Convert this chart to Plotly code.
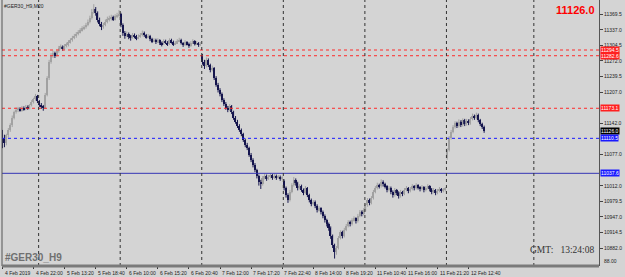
import plotly.graph_objects as go

# ---- data ----
opens = [11122,11112,11100,11117,11128,11138,11153,11165,11170,11172,11168,11174,11171,11176,11173,11179,11186,11192,11199,11188,
         11180,11176,11174,11201,11236,11270,11282,11288,11284,11292,11299,11301,11297,11303,11305,11311,11315,11320,11324,11328,
         11332,11336,11340,11342,11347,11353,11361,11374,11380,11372,11357,11349,11342,11347,11353,11359,11361,11363,11358,11365,
         11367,11370,11347,11330,11324,11328,11322,11320,11326,11323,11319,11322,11326,11330,11325,11321,11324,11317,11313,11316,
         11311,11315,11309,11307,11313,11310,11307,11315,11311,11307,11309,11313,11316,11309,11305,11311,11307,11303,11309,11313,
         11307,11309,11305,11282,11270,11261,11274,11263,11253,11257,11236,11222,11211,11203,11190,11182,11174,11170,11178,11165,
         11153,11145,11136,11128,11119,11107,11097,11090,11076,11065,11055,11044,11032,11020,11015,11028,11032,11026,11030,11034,
         11028,11032,11028,11030,11026,11022,11007,10992,10982,10999,11013,11024,11017,11007,11011,11003,10997,11007,10992,10982,
         10974,10978,10970,10961,10965,10957,10949,10940,10932,10924,10907,10888,10874,10882,10903,10915,10907,10920,10928,10936,
         10932,10940,10944,10938,10949,10957,10953,10961,10971,10982,10976,10986,10999,11007,11013,11011,11020,11015,11011,11003,
         11007,10999,10992,11003,10997,10990,10999,10995,11003,11007,11001,11005,11011,11007,11013,11009,11005,11009,11003,11007,
         11011,11005,10999,11003,10997,11001,11005,11001,11003,11070,11086,11111,11124,11134,11142,11136,11145,11138,11148,11140,
         11147,11142,11151,11157,11153,11159,11148,11140,11134]
highs = [11128,11118,11120,11132,11142,11158,11168,11175,11176,11175,11178,11177,11180,11179,11182,11190,11195,11203,11201,11190,
         11184,11180,11205,11240,11274,11288,11293,11291,11296,11303,11306,11304,11307,11310,11315,11319,11324,11328,11332,11336,
         11340,11344,11346,11351,11358,11366,11380,11390,11384,11375,11362,11353,11351,11358,11364,11366,11368,11366,11369,11372,
         11378,11372,11350,11334,11333,11331,11326,11330,11329,11326,11327,11330,11335,11333,11328,11328,11326,11320,11319,11318,
         11319,11317,11312,11317,11316,11313,11319,11318,11314,11313,11317,11320,11318,11311,11315,11313,11310,11313,11317,11315,
         11313,11311,11311,11286,11274,11279,11277,11266,11262,11259,11240,11226,11215,11206,11194,11186,11178,11182,11180,11168,
         11157,11149,11140,11131,11122,11110,11101,11093,11080,11069,11059,11047,11035,11024,11032,11037,11035,11034,11038,11036,
         11036,11035,11034,11033,11032,11025,11010,10996,11003,11017,11030,11027,11020,11015,11014,11006,11011,11009,10995,10985,
         10982,10981,10973,10969,10967,10960,10952,10943,10935,10927,10910,10891,10886,10907,10919,10918,10924,10932,10940,10939,
         10944,10948,10946,10953,10961,10960,10965,10975,10986,10985,10990,11003,11011,11018,11016,11025,11023,11018,11013,11011,
         11010,11002,11007,11005,11000,11003,11001,11007,11011,11009,11009,11015,11013,11017,11015,11011,11013,11011,11011,11015,
         11013,11007,11007,11005,11005,11009,11007,11007,11009,11090,11115,11128,11138,11146,11145,11150,11148,11152,11151,11151,
         11150,11155,11162,11160,11164,11162,11151,11143,11137]
lows = [11090,11092,11096,11112,11124,11134,11150,11162,11165,11166,11166,11168,11169,11170,11171,11177,11183,11189,11184,11176,
        11172,11168,11172,11198,11232,11266,11278,11278,11281,11289,11296,11293,11295,11300,11302,11308,11312,11317,11320,11325,
        11329,11333,11336,11339,11344,11350,11358,11370,11366,11352,11344,11336,11339,11344,11350,11354,11356,11355,11356,11361,
        11363,11342,11324,11318,11321,11317,11314,11318,11319,11315,11317,11320,11323,11322,11318,11319,11313,11309,11311,11307,
        11309,11305,11302,11305,11307,11303,11305,11308,11303,11305,11307,11311,11306,11301,11303,11304,11299,11301,11307,11304,
        11305,11301,11303,11264,11255,11258,11259,11248,11250,11232,11218,11206,11198,11186,11178,11170,11165,11167,11161,11149,
        11141,11132,11124,11115,11103,11092,11086,11072,11061,11050,11040,11027,11012,11005,11012,11025,11022,11024,11027,11024,
        11026,11024,11026,11022,11024,11002,10987,10976,10979,10996,11010,11012,11002,11004,10999,10992,10995,10988,10977,10969,
        10971,10965,10956,10958,10952,10944,10935,10927,10918,10901,10882,10860,10868,10879,10900,10902,10904,10917,10925,10927,
        10929,10937,10933,10935,10946,10948,10950,10958,10968,10971,10973,10983,10996,11004,11006,11008,11010,11006,10998,11000,
        10994,10987,10989,10992,10985,10987,10990,10992,11000,10996,10998,11002,11002,11004,11004,11000,11002,10998,11000,11004,
        11000,10994,10996,10992,10994,10998,10997,10998,11000,11066,11083,11108,11121,11131,11132,11133,11134,11135,11136,11137,
        11138,11139,11148,11149,11150,11144,11136,11130,11122]
closes = [11112,11100,11117,11128,11138,11153,11165,11170,11172,11168,11174,11171,11176,11173,11179,11186,11192,11199,11188,11180,
          11176,11174,11201,11236,11270,11282,11288,11284,11292,11299,11301,11297,11303,11305,11311,11315,11320,11324,11328,11332,
          11336,11340,11342,11347,11353,11361,11374,11380,11372,11357,11349,11342,11347,11353,11359,11361,11363,11358,11365,11367,
          11370,11347,11330,11324,11328,11322,11320,11326,11323,11319,11322,11326,11330,11325,11321,11324,11317,11313,11316,11311,
          11315,11309,11307,11313,11310,11307,11315,11311,11307,11309,11313,11316,11309,11305,11311,11307,11303,11309,11313,11307,
          11309,11305,11307,11270,11261,11274,11263,11253,11257,11236,11222,11211,11203,11190,11182,11174,11170,11178,11165,11153,
          11145,11136,11128,11119,11107,11097,11090,11076,11065,11055,11044,11032,11020,11015,11028,11032,11026,11030,11034,11028,
          11032,11028,11030,11026,11028,11007,10992,10982,10999,11013,11024,11017,11007,11011,11003,10997,11007,10992,10982,10974,
          10978,10970,10961,10965,10957,10949,10940,10932,10924,10907,10888,10874,10882,10903,10915,10907,10920,10928,10936,10932,
          10940,10944,10938,10949,10957,10953,10961,10971,10982,10976,10986,10999,11007,11013,11011,11020,11015,11011,11003,11007,
          10999,10992,11003,10997,10990,10999,10995,11003,11007,11001,11005,11011,11007,11013,11009,11005,11009,11003,11007,11011,
          11005,10999,11003,10997,11001,11005,11001,11003,11005,11086,11111,11124,11134,11142,11136,11145,11138,11148,11140,11147,
          11142,11151,11157,11153,11159,11148,11140,11134,11126]

price_ticks = [11369.5, 11337.0, 11304.5, 11272.0, 11239.5, 11207.0, 11142.0,
               11077.0, 11012.0, 10979.5, 10947.0, 10914.5, 10882.0]
time_labels = ["4 Feb 2019", "4 Feb 22:00", "5 Feb 13:20", "5 Feb 18:40", "6 Feb 10:00", "6 Feb 15:20",
               "6 Feb 20:40", "7 Feb 12:00", "7 Feb 17:20", "7 Feb 22:40", "8 Feb 14:00", "8 Feb 19:20",
               "11 Feb 10:40", "11 Feb 16:00", "11 Feb 21:20", "12 Feb 12:40"]
label_bars = [0, 16, 32, 48, 64, 80, 96, 112, 128, 144, 160, 176, 192, 208, 224, 240]
day_separators = [18.6, 60.6, 102.6, 144.6, 186.6, 228.6, 273.6]

red_levels = [11294.5, 11282.6, 11173.1]
blue_dotted_level = 11110.5
blue_solid_level = 11037.6
current_price = 11126.0

BG = "#d4d4d4"
BULL = "#a2a2a2"
BEAR = "#16164e"

fig = go.Figure()
n = len(closes)

for color, bull in ((BULL, True), (BEAR, False)):
    xs, ys, bx, bb, bh = [], [], [], [], []
    for i in range(n):
        o, c = opens[i], closes[i]
        if (c >= o) != bull:
            continue
        xs += [i, i, None]
        ys += [lows[i], highs[i], None]
        bx.append(i)
        bb.append(min(o, c))
        bh.append(max(abs(c - o), 0.8))
    fig.add_trace(go.Scatter(x=xs, y=ys, mode="lines", line=dict(color=color, width=1),
                             hoverinfo="skip", showlegend=False))
    fig.add_trace(go.Bar(x=bx, y=bh, base=bb, width=0.8, marker=dict(color=color, line=dict(width=0)),
                         hoverinfo="skip", showlegend=False))

shapes = []
for lv in red_levels:
    shapes.append(dict(type="line", xref="paper", x0=0, x1=1, yref="y", y0=lv, y1=lv,
                       line=dict(color="#ff2a2a", width=1, dash="dot")))
shapes.append(dict(type="line", xref="paper", x0=0, x1=1, yref="y", y0=blue_dotted_level, y1=blue_dotted_level,
                   line=dict(color="#1a1aff", width=1, dash="dot")))
shapes.append(dict(type="line", xref="paper", x0=0, x1=1, yref="y", y0=blue_solid_level, y1=blue_solid_level,
                   line=dict(color="#3535b5", width=1)))
for s in day_separators:
    shapes.append(dict(type="line", xref="x", x0=s, x1=s, yref="paper", y0=0, y1=1,
                       line=dict(color="#333333", width=1, dash="dot")))
shapes.append(dict(type="line", xref="paper", x0=0, x1=0, yref="paper", y0=0, y1=1,
                   line=dict(color="#555555", width=1)))
shapes.append(dict(type="line", xref="paper", x0=0, x1=1, yref="paper", y0=0, y1=0,
                   line=dict(color="#7a7a7a", width=3)))

ann = []
AX_FONT = dict(family="Liberation Sans", size=5, color="#222222")
for t in price_ticks:
    ann.append(dict(x=1, xref="paper", xanchor="left", xshift=3, y=t, yref="y", text=f"{t:.1f}",
                    showarrow=False, font=AX_FONT))
ann.append(dict(x=1, xref="paper", xanchor="left", xshift=3, y=0, yref="paper", text="88.00",
                showarrow=False, font=AX_FONT))
for lv in red_levels:
    ann.append(dict(x=1, xref="paper", xanchor="left", xshift=1, y=lv, yref="y", text=f"{lv:.1f}",
                    showarrow=False, bgcolor="#ff2020", borderpad=0,
                    font=dict(family="Liberation Sans", size=5, color="white")))
ann.append(dict(x=1, xref="paper", xanchor="left", xshift=1, y=current_price, yref="y", text=f"{current_price:.1f}",
                showarrow=False, bgcolor="#000000", borderpad=0,
                font=dict(family="Liberation Sans", size=5, color="white")))
for lv in (blue_dotted_level, blue_solid_level):
    ann.append(dict(x=1, xref="paper", xanchor="left", xshift=1, y=lv, yref="y", text=f"{lv:.1f}",
                    showarrow=False, bgcolor="#1a1aff", borderpad=0,
                    font=dict(family="Liberation Sans", size=5, color="white")))
for b, lab in zip(label_bars, time_labels):
    ann.append(dict(x=b, xref="x", xanchor="left", xshift=0, y=0, yref="paper", yanchor="top", yshift=-2,
                    text=lab, showarrow=False, font=AX_FONT))
ann.append(dict(x=0, xref="paper", xanchor="left", xshift=0, y=1, yref="paper", yanchor="top", yshift=-1,
                text="#GER30_H9,M20", showarrow=False, font=dict(family="Liberation Sans", size=5, color="#222222")))
ann.append(dict(x=0, xref="paper", xanchor="left", xshift=1, y=0, yref="paper", yanchor="bottom", yshift=1,
                text="#GER30_H9", showarrow=False,
                font=dict(family="Liberation Sans", size=10, color="#707070", weight="bold")))
ann.append(dict(x=1, xref="paper", xanchor="right", xshift=-2, y=1, yref="paper", yanchor="top", yshift=-2,
                text="11126.0", showarrow=False,
                font=dict(family="Liberation Sans", size=11, color="#ff0000", weight="bold")))
ann.append(dict(x=1, xref="paper", xanchor="right", xshift=-3, y=0, yref="paper", yanchor="bottom", yshift=9,
                text="GMT:&nbsp;&nbsp;&nbsp;13:24:08", showarrow=False,
                font=dict(family="Liberation Serif", size=9.5, color="#333333")))

fig.update_layout(
    width=625, height=277,
    margin=dict(l=2, r=26, t=0, b=11),
    paper_bgcolor=BG, plot_bgcolor=BG,
    bargap=0, barmode="overlay",
    shapes=shapes, annotations=ann,
    xaxis=dict(range=[-0.257, 307.15], showgrid=False, zeroline=False, showticklabels=False,
               tickvals=label_bars, ticks="outside", ticklen=2, tickcolor="#333333", fixedrange=True),
    yaxis=dict(range=[10844.5, 11398.7], side="right", showgrid=False, zeroline=False,
               showticklabels=False, tickvals=price_ticks, ticks="outside", ticklen=3, tickcolor="#444444",
               showline=True, linecolor="#555555", linewidth=1, fixedrange=True),
)

fig.write_html("out.html")
